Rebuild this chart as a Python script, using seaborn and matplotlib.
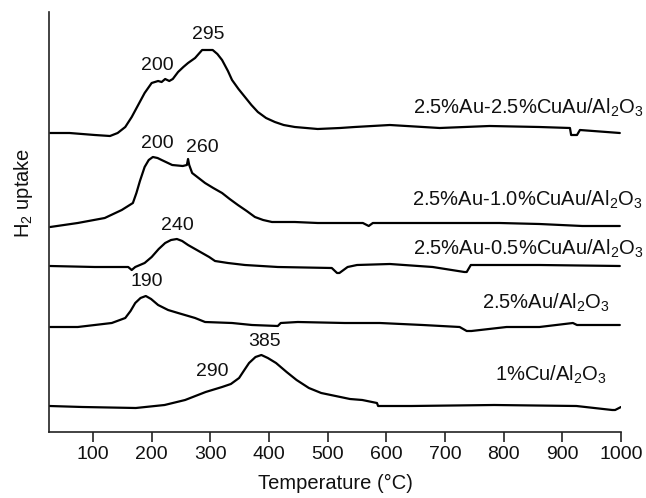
import matplotlib
matplotlib.use("Agg")
import matplotlib.pyplot as plt
import seaborn as sns
import pandas as pd

# ---- data (temperature in °C, signal in arbitrary units above each baseline) ----
samples = ["2.5%Au-2.5%CuAu/Al$_2$O$_3$", "2.5%Au-1.0%CuAu/Al$_2$O$_3$",
           "2.5%Au-0.5%CuAu/Al$_2$O$_3$", "2.5%Au/Al$_2$O$_3$", "1%Cu/Al$_2$O$_3$"]

t1 = [27, 60, 103, 129, 142, 155, 166, 177, 188, 200, 211, 217, 223, 230, 236, 245, 254, 262,
      274, 286, 304, 312, 320, 330, 337, 348, 359, 370, 381, 395, 410, 425, 444, 483, 521, 546,
      606, 691, 776, 861, 913, 915, 925, 930, 998]
s1 = [0, 0, -2, -3, 0, 6, 16, 28, 40, 50, 52, 51, 54, 52, 54, 61, 66, 70,
      75, 83, 83, 79, 73, 62, 53, 44, 36, 28, 21, 15, 11, 8, 6, 4, 5, 6,
      8, 5, 7, 6, 5, -2, -2, 3, 0]

t2 = [27, 74, 120, 149, 168, 174, 180, 188, 195, 202, 210, 217, 235, 253, 260, 262, 264, 269,
      280, 291, 305, 320, 333, 347, 362, 376, 390, 405, 444, 483, 521, 560, 570, 577, 635,
      691, 793, 861, 934, 998]
s2 = [0, 4, 9, 17, 24, 34, 46, 60, 67, 70, 69, 67, 62, 61, 62, 68, 62, 54,
      49, 44, 39, 34, 28, 22, 16, 10, 7, 5, 5, 4, 4, 4, 1, 4, 4,
      4, 4, 3, 1, 1]

t3 = [27, 103, 160, 166, 172, 188, 200, 212, 223, 233, 243, 252, 262, 274, 286, 298, 308, 330,
      359, 415, 507, 516, 520, 534, 550, 606, 679, 733, 737, 744, 861, 998]
s3 = [0, -1, -1, -4, -1, 3, 9, 17, 23, 26, 27, 25, 21, 17, 13, 9, 5, 3,
      1, -1, -2, -7, -7, -1, 1, 2, -1, -6, -6, 1, 1, 0]

t4 = [27, 74, 132, 155, 164, 172, 181, 190, 199, 211, 228, 245, 274, 291, 337, 371, 415, 420,
      449, 529, 589, 662, 725, 737, 745, 805, 861, 918, 925, 998]
s4 = [0, 0, 4, 9, 16, 24, 29, 31, 28, 22, 17, 14, 9, 5, 4, 2, 1, 4,
      5, 4, 4, 2, 0, -4, -4, 0, 0, 4, 2, 2]

t5 = [26, 82, 173, 222, 257, 292, 320, 335, 349, 358, 366, 377, 387, 398, 412, 430, 447, 468,
      489, 538, 559, 584, 586, 643, 784, 924, 985, 990, 1000]
s5 = [0, -1, -2, 1, 6, 14, 19, 22, 28, 36, 43, 49, 51, 48, 43, 34, 26, 18,
      13, 7, 6, 3, 0, 0, 1, 0, -4, -4, -1]

offsets = [299, 205, 166, 105, 26]

peak_texts = ["295", "200", "200", "260", "240", "190", "385", "290"]
peak_x = [296, 209, 209, 287, 243, 192, 393, 303]
peak_y = [397, 367, 288, 285, 206, 151, 91, 61]

label_x = [1039, 1036, 1039, 981, 976]
label_y = [324, 232, 183, 129, 57]

xticks = [100, 200, 300, 400, 500, 600, 700, 800, 900, 1000]

# ---- build long table ----
frames = []
for name, t, s, off in zip(samples, [t1, t2, t3, t4, t5], [s1, s2, s3, s4, s5], offsets):
    frames.append(pd.DataFrame({"T": t, "uptake": [v + off for v in s], "sample": name}))
df = pd.concat(frames, ignore_index=True)

# ---- style ----
sns.set_style("ticks")
plt.rcParams["font.family"] = ["Liberation Sans", "DejaVu Sans"]
plt.rcParams["mathtext.fontset"] = "custom"
plt.rcParams["mathtext.rm"] = "Liberation Sans"
plt.rcParams["mathtext.it"] = "Liberation Sans:italic"
plt.rcParams["mathtext.bf"] = "Liberation Sans:bold"

fig = plt.figure(figsize=(6.46, 4.98), dpi=100)
ax = fig.add_axes([49 / 646, 66 / 498, 572 / 646, 420 / 498])

sns.lineplot(data=df, x="T", y="uptake", units="sample", estimator=None, sort=False,
             color="black", linewidth=1.6, ax=ax, legend=False)

for txt, x, y in zip(peak_texts, peak_x, peak_y):
    ax.text(x, y, txt, ha="center", va="center", fontsize=14, color="#111111")

for name, x, y in zip(samples, label_x, label_y):
    ax.text(x, y, name, ha="right", va="center", fontsize=14.5, color="#111111", clip_on=False)

ax.set_xlim(25, 1000)
ax.set_ylim(0, 420)
ax.set_xticks(xticks)
ax.set_xticklabels([str(v) for v in xticks])
ax.set_yticks([])
ax.tick_params(axis="x", direction="out", length=7, width=1.2, labelsize=14, pad=3,
               colors="#222222", labelcolor="#111111")
for side in ["top", "right"]:
    ax.spines[side].set_visible(False)
for side in ["left", "bottom"]:
    ax.spines[side].set_linewidth(1.2)
    ax.spines[side].set_color("#222222")

ax.set_xlabel("Temperature (°C)", fontsize=14.5, labelpad=8, color="#111111")
ax.set_ylabel("H$_2$ uptake", fontsize=14.5, color="#111111")
ax.yaxis.set_label_coords(-0.025, 0.57)

fig.savefig("out.png", dpi=100)
